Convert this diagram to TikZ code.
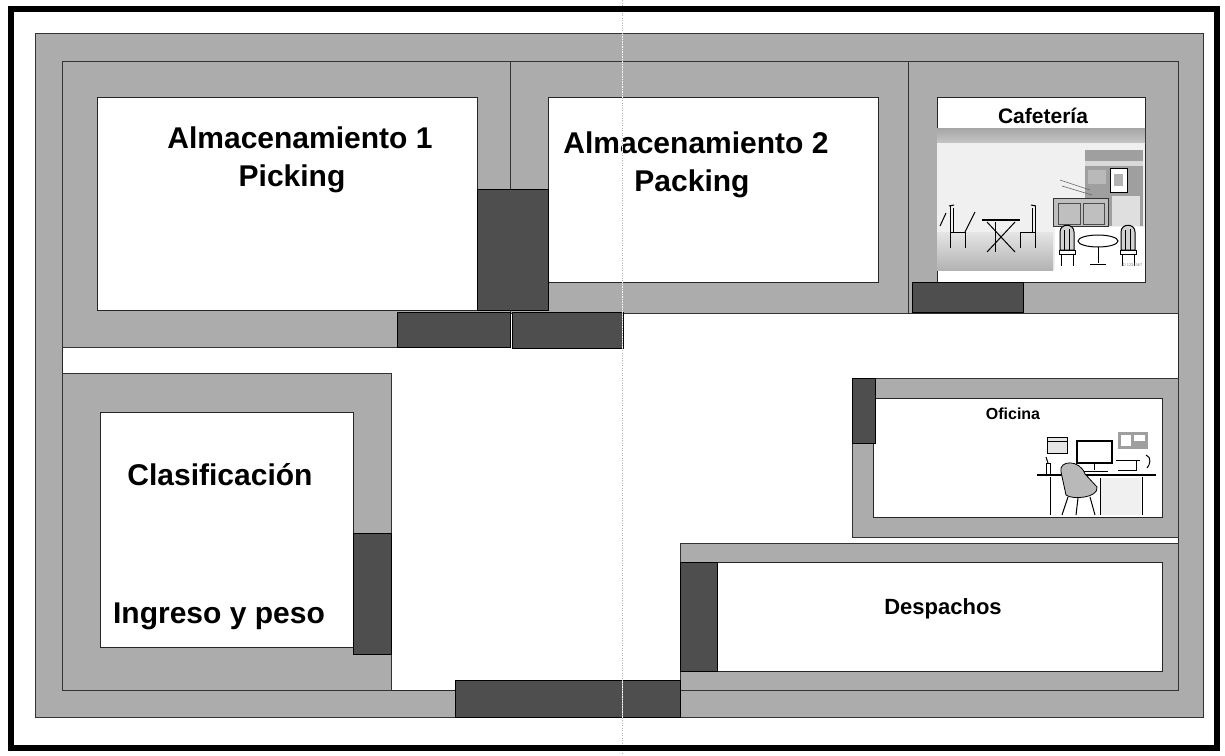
\documentclass[tikz,border=0pt]{standalone}
\usepackage{fontspec}
\setmainfont{Liberation Sans}
\definecolor{wallgray}{RGB}{172,172,172}
\definecolor{doorgray}{RGB}{78,78,78}
\begin{document}
\begin{tikzpicture}[x=1pt,y=-1pt,
  wallfill/.style={fill=wallgray, draw=black!80, line width=0.8pt},
  roomwhite/.style={fill=white, draw=black!85, line width=0.9pt},
  doorblock/.style={fill=doorgray, draw=black, line width=0.8pt},
  bigtext/.style={font=\fontsize{30}{34}\selectfont\bfseries, inner sep=0pt, anchor=base},
  midtext/.style={font=\fontsize{21}{24}\selectfont\bfseries, inner sep=0pt, anchor=base},
  smalltext/.style={font=\fontsize{16}{18}\selectfont\bfseries, inner sep=0pt, anchor=base},
  ink/.style={draw=black, line width=1pt},
  cafechair/.pic={
    \draw[ink] (0,-26) -- (0,0) -- (15,0);
    \draw[ink] (0,0) -- (0,16);
    \draw[ink] (15,0) -- (15,16);
    \draw[ink] (3,-24) -- (3,0);
    \draw[ink] (-1,-26) -- (4,-27);
  },
  roundchair/.pic={
    \draw[ink, fill=gray!35] (0,0) -- (0,-18) .. controls (0,-27) and (14,-27) .. (14,-18) -- (14,0) -- cycle;
    \draw[ink] (4,-20) -- (4,0);
    \draw[ink] (9,-21) -- (9,0);
    \draw[ink] (-1,0) rectangle (15,4);
    \draw[ink] (1,4) -- (1,16);
    \draw[ink] (13,4) -- (13,16);
  }
]
\useasboundingbox (0,0) rectangle (1225,755);
\fill[white] (0,0) rectangle (1225,755);

% outer wall band and inner corridor floor
\path[wallfill] (35,33) rectangle (1203,717);
\path[fill=white, draw=black!85, line width=0.9pt] (62,61) rectangle (1178,690);
\draw[white, line width=0.8pt] (64,62) -- (64,688) -- (1177,688);

% room wall blocks
\path[wallfill] (62,61) rectangle (510,347);
\path[wallfill] (510,61) rectangle (908,313);
\path[wallfill] (908,61) rectangle (1178,313);
\path[wallfill] (62,373) rectangle (391,690);
\path[wallfill] (852,378) rectangle (1178,537);
\path[wallfill] (680,543) rectangle (1178,690);

% room floors
\path[roomwhite] (97,97) rectangle (477,310);
\path[roomwhite] (548,97) rectangle (878,282);
\path[roomwhite] (937,97) rectangle (1145,282);
\path[roomwhite] (100,412) rectangle (353,647);
\path[roomwhite] (873,398) rectangle (1162,517);
\path[roomwhite] (717,562) rectangle (1162,671);

% doors
\path[doorblock] (477,189) rectangle (548,310);
\path[doorblock] (397,312) rectangle (510,347);
\path[doorblock] (512,312) rectangle (623,348);
\path[doorblock] (912,282) rectangle (1023,312);
\path[doorblock] (353,533) rectangle (391,654);
\path[doorblock] (455,680) rectangle (680,717);
\path[doorblock] (852,378) rectangle (875,443);
\path[doorblock] (680,562) rectangle (717,671);

% cafeteria picture
\begin{scope}
  \clip (937,128) rectangle (1145,270);
  \shade[top color=gray!70, bottom color=gray!45] (937,128) rectangle (1145,143);
  \fill[gray!12] (937,143) rectangle (1145,270);
  \shade[top color=gray!20, bottom color=gray!60] (937,232) rectangle (1053,270);
  % back counter and shelves
  \fill[gray!75] (1085,150) rectangle (1143,226);
  \fill[gray!30] (1085,161) rectangle (1143,166);
  \fill[gray!55] (1088,170) rectangle (1106,184);
  \fill[white, draw=black, line width=0.6pt] (1110,168) rectangle (1127,192);
  \fill[gray!60] (1114,174) rectangle (1123,186);
  \fill[gray!25] (1112,196) rectangle (1140,226);
  \fill[gray!50, draw=black!80, line width=0.6pt] (1053,198) rectangle (1108,226);
  \draw[black!70, line width=0.6pt] (1058,203) rectangle (1080,224);
  \draw[black!70, line width=0.6pt] (1083,203) rectangle (1104,224);
  \draw[black!60, line width=0.6pt] (1060,180) -- (1090,190);
  \draw[black!60, line width=0.6pt] (1062,186) -- (1092,195);
  % outdoor table and chairs
  \draw[ink, line width=1.4pt] (982,220) -- (1020,220);
  \draw[ink] (987,222) -- (1015,252);
  \draw[ink] (1015,222) -- (987,252);
  \draw[ink] (995,222) -- (995,252);
  \pic at (950,232) {cafechair};
  \pic[xscale=-1] at (1035,232) {cafechair};
  \draw[ink] (940,226) -- (946,213);
  \draw[ink] (965,232) -- (975,212);
  % indoor round table and chairs
  \fill[white] (1055,227) rectangle (1145,270);
  \draw[ink, fill=white] (1098,241) ellipse [x radius=20, y radius=6];
  \draw[ink] (1098,247) -- (1098,263);
  \draw[ink] (1090,264) -- (1106,264);
  \pic at (1060,250) {roundchair};
  \pic at (1121,250) {roundchair};
  \node[font=\fontsize{4}{4}\selectfont, text=gray, inner sep=0pt] (cafemark) at (1132,265) {ID 1234567};
\end{scope}

% office picture
\draw[ink, line width=1.4pt] (1037,475) -- (1156,475);
\draw[ink] (1050,477) -- (1050,515);
\draw[ink] (1142,477) -- (1142,515);
\fill[gray!12] (1100,478) rectangle (1141,515);
\draw[ink] (1100,478) -- (1100,515);
\draw[ink, line width=1.2pt] (1077,441) rectangle (1112,463);
\draw[ink] (1094,463) -- (1094,470);
\draw[ink] (1082,471) -- (1108,471);
\fill[gray!75] (1118,432) rectangle (1148,449);
\fill[white] (1121,435) rectangle (1131,446);
\fill[white] (1134,435) rectangle (1145,441);
\draw[ink, fill=gray!20] (1047,437) rectangle (1067,453);
\draw[ink] (1047,441) -- (1067,441);
\draw[ink] (1116,460) -- (1140,460);
\draw[ink] (1136,460) -- (1136,470) -- (1118,470);
\draw[ink] (1146,455) .. controls (1152,457) and (1150,465) .. (1147,468);
\draw[ink] (1046,463) rectangle (1050,474);
\draw[ink] (1048,463) -- (1046,457);
\path[draw=black, line width=0.8pt, fill=gray!55] (1061,472) .. controls (1058,460) and (1080,459) .. (1085,474) -- (1097,487) .. controls (1099,498) and (1072,500) .. (1066,495) -- cycle;
\draw[ink] (1068,497) -- (1062,515);
\draw[ink] (1078,498) -- (1076,515);
\draw[ink] (1090,497) -- (1095,515);

% room names
\node[bigtext] (alm1) at (300,148) {Almacenamiento 1};
\node[bigtext] (pick) at (292,186) {Picking};
\node[bigtext] (alm2) at (696,153) {Almacenamiento 2};
\node[bigtext] (pack) at (692,191) {Packing};
\node[midtext] (cafe) at (1043,123) {Cafetería};
\node[smalltext] (ofic) at (1013,419) {Oficina};
\node[bigtext] (clas) at (220,485) {Clasificación};
\node[bigtext] (ingr) at (219,623) {Ingreso y peso};
\node[font=\fontsize{22}{24}\selectfont\bfseries, inner sep=0pt, anchor=base] (desp) at (943,614) {Despachos};

% fold line of the sheet
\draw[white, line width=0.8pt] (622,0) -- (622,755);
\draw[gray!60, line width=0.6pt, dash pattern=on 1pt off 1.5pt] (622,0) -- (622,755);

% page frame
\draw[black, line width=6pt] (11,9) rectangle (1217,748);
\end{tikzpicture}
\end{document}
